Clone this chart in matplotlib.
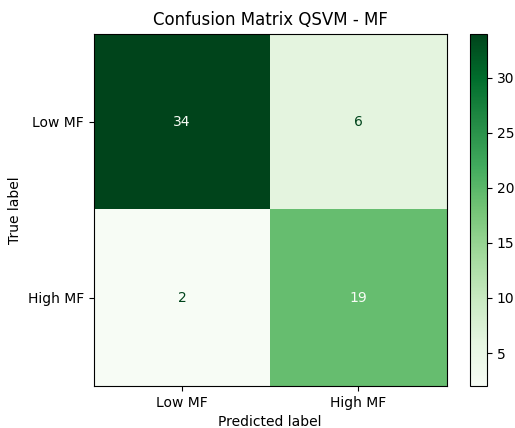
import numpy as np
import matplotlib
matplotlib.use("Agg")
from matplotlib import pyplot as plt

labels = ["Low MF", "High MF"]
cm = np.array([[34, 6],
               [2, 19]])

fig = plt.figure(figsize=(5.15, 4.28), dpi=100)
ax = fig.add_axes([0.182, 0.098, 0.685, 0.823])
cax = fig.add_axes([0.913, 0.098, 0.033, 0.823])

cmap = plt.get_cmap("Greens")
im = ax.imshow(cm, interpolation="nearest", cmap=cmap, aspect="auto")
fig.colorbar(im, cax=cax)

thresh = (cm.max() + cm.min()) / 2.0
for i in range(cm.shape[0]):
    for j in range(cm.shape[1]):
        color = cmap(0.0) if cm[i, j] >= thresh else cmap(1.0)
        ax.text(j, i, str(cm[i, j]), ha="center", va="center", color=color)

ax.set_xticks(np.arange(len(labels)))
ax.set_yticks(np.arange(len(labels)))
ax.set_xticklabels(labels)
ax.set_yticklabels(labels)
ax.set_xlabel("Predicted label")
ax.set_ylabel("True label")
ax.set_title("Confusion Matrix QSVM - MF")

fig.savefig("out.png", dpi=100)
